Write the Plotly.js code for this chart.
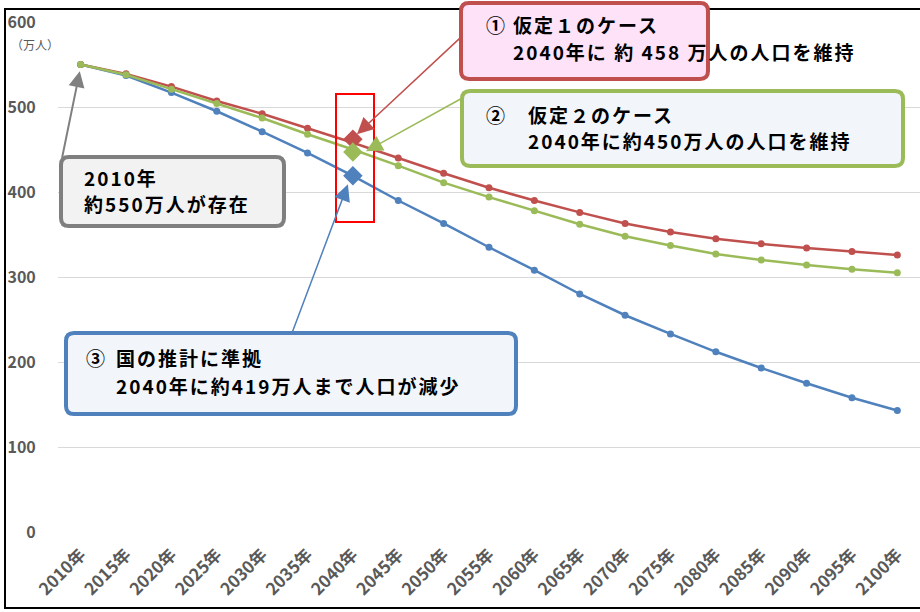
<!DOCTYPE html>
<html>
<head>
<meta charset="utf-8">
<script src="https://cdn.plot.ly/plotly-3.0.1.min.js"></script>
<style>html,body{margin:0;padding:0;background:#fff;}#chart{width:920px;height:612px;}</style>
</head>
<body>
<div id="chart"></div>
<script>
// ---- data ----
const years = ['2010年','2015年','2020年','2025年','2030年','2035年','2040年','2045年','2050年','2055年','2060年','2065年','2070年','2075年','2080年','2085年','2090年','2095年','2100年'];
const nationalEstimate = [550,537,517,495,471,446,419,390,363,335,308,280,255,233,212,193,175,158,143];
const case1 = [550,539,524,507,492,475,458,440,422,405,390,376,363,353,345,339,334,330,326];
const case2 = [550,538,521,504,487,468,450,431,411,394,378,362,348,337,327,320,314,309,305];
const highlightYear = ['2040年'];
const highlightCase1 = [462];
const highlightCase2 = [447];
const highlightNational = [419];
const yTicks = [0,100,200,300,400,500,600];

const BLUE='#4f81bd', RED='#c0504d', GREEN='#9bbb59', GRAY='#7f7f7f';
const FONT='"Noto Sans CJK JP", "Noto Sans", sans-serif';

// plot area in pixels: x 58..920, y 22..532
const L=58, W=862, T=22, H=510;
const px = x => (x-L)/W;
const py = y => (T+H-y)/H;

function roundRect(x0,y0,x1,y1,r){
  const P=(x,y)=>px(x).toFixed(5)+','+py(y).toFixed(5);
  return 'M'+P(x0+r,y0)+' L'+P(x1-r,y0)+' Q'+P(x1,y0)+' '+P(x1,y0+r)+
         ' L'+P(x1,y1-r)+' Q'+P(x1,y1)+' '+P(x1-r,y1)+
         ' L'+P(x0+r,y1)+' Q'+P(x0,y1)+' '+P(x0,y1-r)+
         ' L'+P(x0,y0+r)+' Q'+P(x0,y0)+' '+P(x0+r,y0)+' Z';
}

const line = (name, y, color) => ({
  type:'scatter', mode:'lines+markers', name, x:years, y,
  line:{color, width:2.5}, marker:{color, size:7, symbol:'circle'}, hoverinfo:'skip'
});
const hl = (y, color) => ({
  type:'scatter', mode:'markers', x:highlightYear, y,
  marker:{color, size:15, symbol:'diamond'}, hoverinfo:'skip', showlegend:false
});

const data = [
  line('国の推計に準拠', nationalEstimate, BLUE),
  line('仮定１', case1, RED),
  line('仮定２', case2, GREEN),
  hl(highlightCase1, RED),
  hl(highlightCase2, GREEN),
  hl(highlightNational, BLUE)
];

const shapes = [
  {type:'path', xref:'paper', yref:'paper', path:'M'+px(920)+','+py(9)+' L'+px(5)+','+py(9)+' L'+px(5)+','+py(608)+' L'+px(920)+','+py(608), line:{color:'#000', width:2}},
  {type:'rect', xref:'paper', yref:'paper', x0:px(336), x1:px(374), y0:py(94), y1:py(222), line:{color:'#ff0000', width:2}, fillcolor:'rgba(0,0,0,0)'},
  {type:'path', xref:'paper', yref:'paper', path:roundRect(461,3,708,79,8), line:{color:RED, width:4}, fillcolor:'#fde2f8'},
  {type:'path', xref:'paper', yref:'paper', path:roundRect(462,91,903,166,8), line:{color:GREEN, width:4}, fillcolor:'#f2f6fb'},
  {type:'path', xref:'paper', yref:'paper', path:roundRect(61,157,284,226,8), line:{color:GRAY, width:4}, fillcolor:'#f2f2f2'},
  {type:'path', xref:'paper', yref:'paper', path:roundRect(66,333,516,414,8), line:{color:BLUE, width:4}, fillcolor:'#f2f6fb'}
];

const txt = (x, y, text) => ({
  xref:'paper', yref:'paper', x:px(x), y:py(y), xanchor:'left', yanchor:'middle',
  text:'<span style="letter-spacing:2px">'+text+'</span>', showarrow:false,
  borderpad:0, borderwidth:0,
  font:{family:FONT, size:19, color:'#000', weight:'bold'}
});
const arrow = (xi, yv, ax, ay, color, w, hs) => ({
  x:xi, y:yv, xref:'x', yref:'y', text:'', showarrow:true, ax, ay,
  arrowcolor:color, arrowwidth:w, arrowhead:2, arrowsize:hs
});

const annotations = [
  arrow(-0.02, 542, -18, 88, '#808080', 2, 1.6),
  arrow(6.09, 468, 105, -98, RED, 1.5, 2.2),
  arrow(6.29, 448, 96, -53, GREEN, 1.5, 2.2),
  arrow(5.89, 409, -56, 149, BLUE, 1.5, 2.2),
  txt(486, 25, '①'), txt(513, 25, '仮定１のケース'),
  txt(513, 51, '2040年に 約 458 万人の人口を維持'),
  txt(486, 114, '②'), txt(528, 114, '仮定２のケース'),
  txt(528, 141, '2040年に約450万人の人口を維持'),
  txt(84, 177, '2010年'), txt(84, 204, '約550万人が存在'),
  txt(86, 357, '③'), txt(116, 357, '国の推計に準拠'),
  txt(116, 385, '2040年に約419万人まで人口が減少'),
  {xref:'paper', yref:'paper', x:px(9), y:py(45), xanchor:'left', yanchor:'middle', text:'（万人）', showarrow:false, font:{family:FONT, size:12, color:'#595959'}}
];

const layout = {
  width:920, height:612,
  margin:{l:L, r:0, t:T, b:612-T-H, pad:0},
  paper_bgcolor:'#fff', plot_bgcolor:'#fff',
  showlegend:false,
  font:{family:FONT},
  xaxis:{type:'category', range:[-0.5,18.5], showgrid:false, zeroline:false, showline:false,
    tickangle:-45, ticks:'outside', ticklen:5, tickcolor:'rgba(0,0,0,0)',
    tickfont:{family:FONT, size:17, color:'#595959', weight:'bold'}},
  yaxis:{range:[0,600], tickvals:yTicks, showgrid:true, gridcolor:'#d9d9d9', gridwidth:1, zeroline:false, showline:false,
    ticks:'outside', ticklen:18, tickcolor:'rgba(0,0,0,0)',
    tickfont:{family:FONT, size:16, color:'#595959', weight:'bold'}},
  shapes, annotations
};

Plotly.newPlot('chart', data, layout, {displayModeBar:false, staticPlot:true});
</script>
</body>
</html>
